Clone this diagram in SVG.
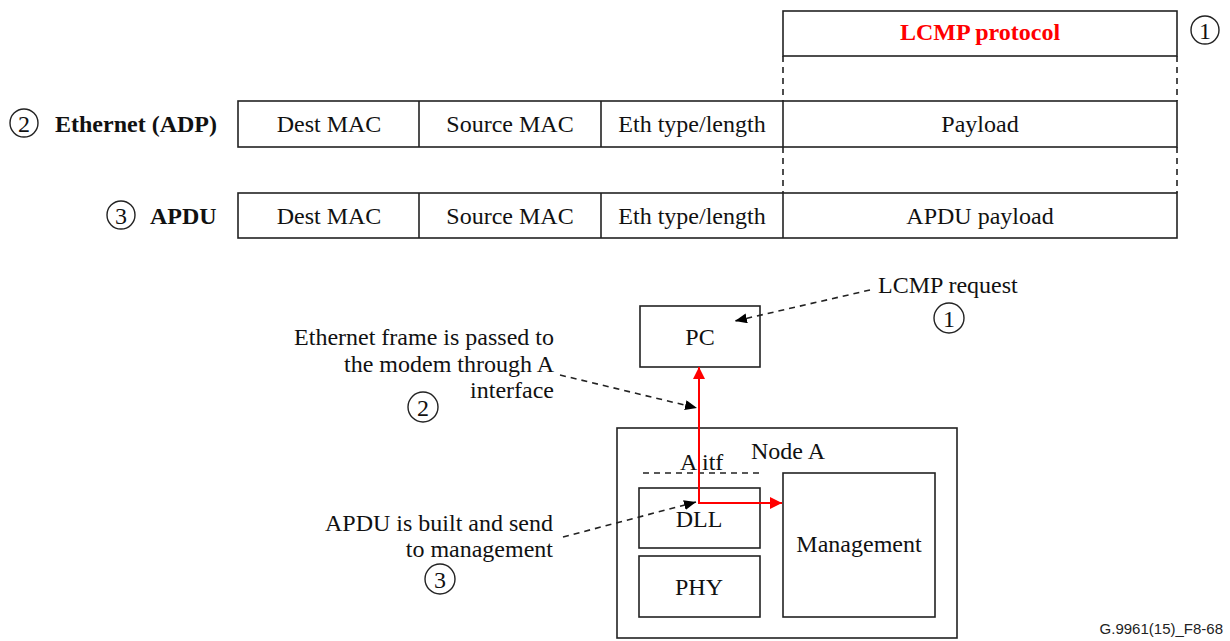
<svg xmlns="http://www.w3.org/2000/svg" width="1230" height="641" viewBox="0 0 1230 641">
<defs>
<style>
.box{fill:#fff;stroke:#222;stroke-width:1.6}
.t{font-family:"Liberation Serif","Times New Roman",serif;font-size:24px;fill:#111}
.b{font-weight:bold}
.m{text-anchor:middle}
.e{text-anchor:end}
.dash{fill:none;stroke:#222;stroke-width:1.6;stroke-dasharray:6,5}
.circ{fill:none;stroke:#222;stroke-width:1.4}
.red{fill:none;stroke:#f00;stroke-width:2}
</style>
<marker id="ab" viewBox="0 0 12 10" refX="12" refY="5" markerWidth="12" markerHeight="10" markerUnits="userSpaceOnUse" orient="auto"><path d="M0,0 L12,5 L0,10 Z" fill="#000"/></marker>
<marker id="ar" viewBox="0 0 12 12" refX="12" refY="6" markerWidth="12" markerHeight="12" markerUnits="userSpaceOnUse" orient="auto"><path d="M0,0 L12,6 L0,12 Z" fill="#f00"/></marker>
</defs>
<rect width="1230" height="641" fill="#fff"/>

<g id="lcmp">
<rect class="box" x="783" y="11" width="394" height="45"/>
<text class="t b m" x="980" y="40" style="fill:#f00">LCMP protocol</text>
<circle class="circ" cx="1205" cy="30" r="14"/>
<text class="t m" x="1205" y="39">1</text>
</g>

<g id="ethernet">
<circle class="circ" cx="24" cy="123" r="14"/>
<text class="t m" x="24" y="132">2</text>
<text class="t b" x="55" y="132">Ethernet (ADP)</text>
<rect class="box" x="238" y="101" width="939" height="46"/>
<line x1="419" y1="101" x2="419" y2="147" stroke="#222" stroke-width="1.6"/>
<line x1="601" y1="101" x2="601" y2="147" stroke="#222" stroke-width="1.6"/>
<line x1="783" y1="101" x2="783" y2="147" stroke="#222" stroke-width="1.6"/>
<text class="t m" x="329" y="132">Dest MAC</text>
<text class="t m" x="510" y="132">Source MAC</text>
<text class="t m" x="692" y="132">Eth type/length</text>
<text class="t m" x="980" y="132">Payload</text>
</g>

<g id="apdu">
<circle class="circ" cx="121" cy="215" r="14"/>
<text class="t m" x="121" y="224">3</text>
<text class="t b" x="150" y="224">APDU</text>
<rect class="box" x="238" y="193" width="939" height="45"/>
<line x1="419" y1="193" x2="419" y2="238" stroke="#222" stroke-width="1.6"/>
<line x1="601" y1="193" x2="601" y2="238" stroke="#222" stroke-width="1.6"/>
<line x1="783" y1="193" x2="783" y2="238" stroke="#222" stroke-width="1.6"/>
<text class="t m" x="329" y="224">Dest MAC</text>
<text class="t m" x="510" y="224">Source MAC</text>
<text class="t m" x="692" y="224">Eth type/length</text>
<text class="t m" x="980" y="224">APDU payload</text>
</g>

<g id="pc">
<rect class="box" x="640" y="306" width="120" height="61"/>
<text class="t m" x="700" y="345">PC</text>
</g>

<g id="nodeA">
<rect class="box" x="617" y="428" width="340" height="210"/>
<text class="t" x="751" y="459">Node A</text>
<text class="t" x="680" y="470">A itf</text>
<line class="dash" x1="643" y1="473" x2="760" y2="473"/>
</g>
<g id="dll">
<rect class="box" x="639" y="488" width="121" height="60"/>
<text class="t m" x="699" y="527">DLL</text>
</g>
<g id="phy">
<rect class="box" x="639" y="556" width="121" height="61"/>
<text class="t m" x="699" y="595">PHY</text>
</g>
<g id="management">
<rect class="box" x="783" y="473" width="152" height="144"/>
<text class="t m" x="859" y="552">Management</text>
</g>

<g id="labels">
<text class="t" x="878" y="293">LCMP request</text>
<circle class="circ" cx="949" cy="318" r="15"/>
<text class="t m" x="949" y="327">1</text>
<text class="t e" x="554" y="345">Ethernet frame is passed to</text>
<text class="t e" x="554" y="372">the modem through A</text>
<text class="t e" x="554" y="398">interface</text>
<circle class="circ" cx="423" cy="407" r="15"/>
<text class="t m" x="423" y="416">2</text>
<text class="t e" x="553" y="531">APDU is built and send</text>
<text class="t e" x="553" y="557">to management</text>
<circle class="circ" cx="440" cy="579" r="15"/>
<text class="t m" x="440" y="588">3</text>
<text x="1223" y="634" text-anchor="end" font-family="Liberation Sans, Arial, sans-serif" font-size="15" fill="#222">G.9961(15)_F8-68</text>
</g>

<g id="connectors">
<line class="dash" x1="783" y1="56" x2="783" y2="101"/>
<line class="dash" x1="1177" y1="56" x2="1177" y2="101"/>
<line class="dash" x1="783" y1="147" x2="783" y2="193"/>
<line class="dash" x1="1177" y1="147" x2="1177" y2="193"/>
<line class="dash" x1="870" y1="290" x2="735" y2="321" marker-end="url(#ab)"/>
<line class="dash" x1="560" y1="375" x2="697" y2="408" marker-end="url(#ab)"/>
<line class="dash" x1="563" y1="537" x2="696" y2="502" marker-end="url(#ab)"/>
<line class="red" x1="699" y1="504" x2="699" y2="367" marker-end="url(#ar)"/>
<line class="red" x1="698" y1="503" x2="782" y2="503" marker-end="url(#ar)"/>
</g>
</svg>
